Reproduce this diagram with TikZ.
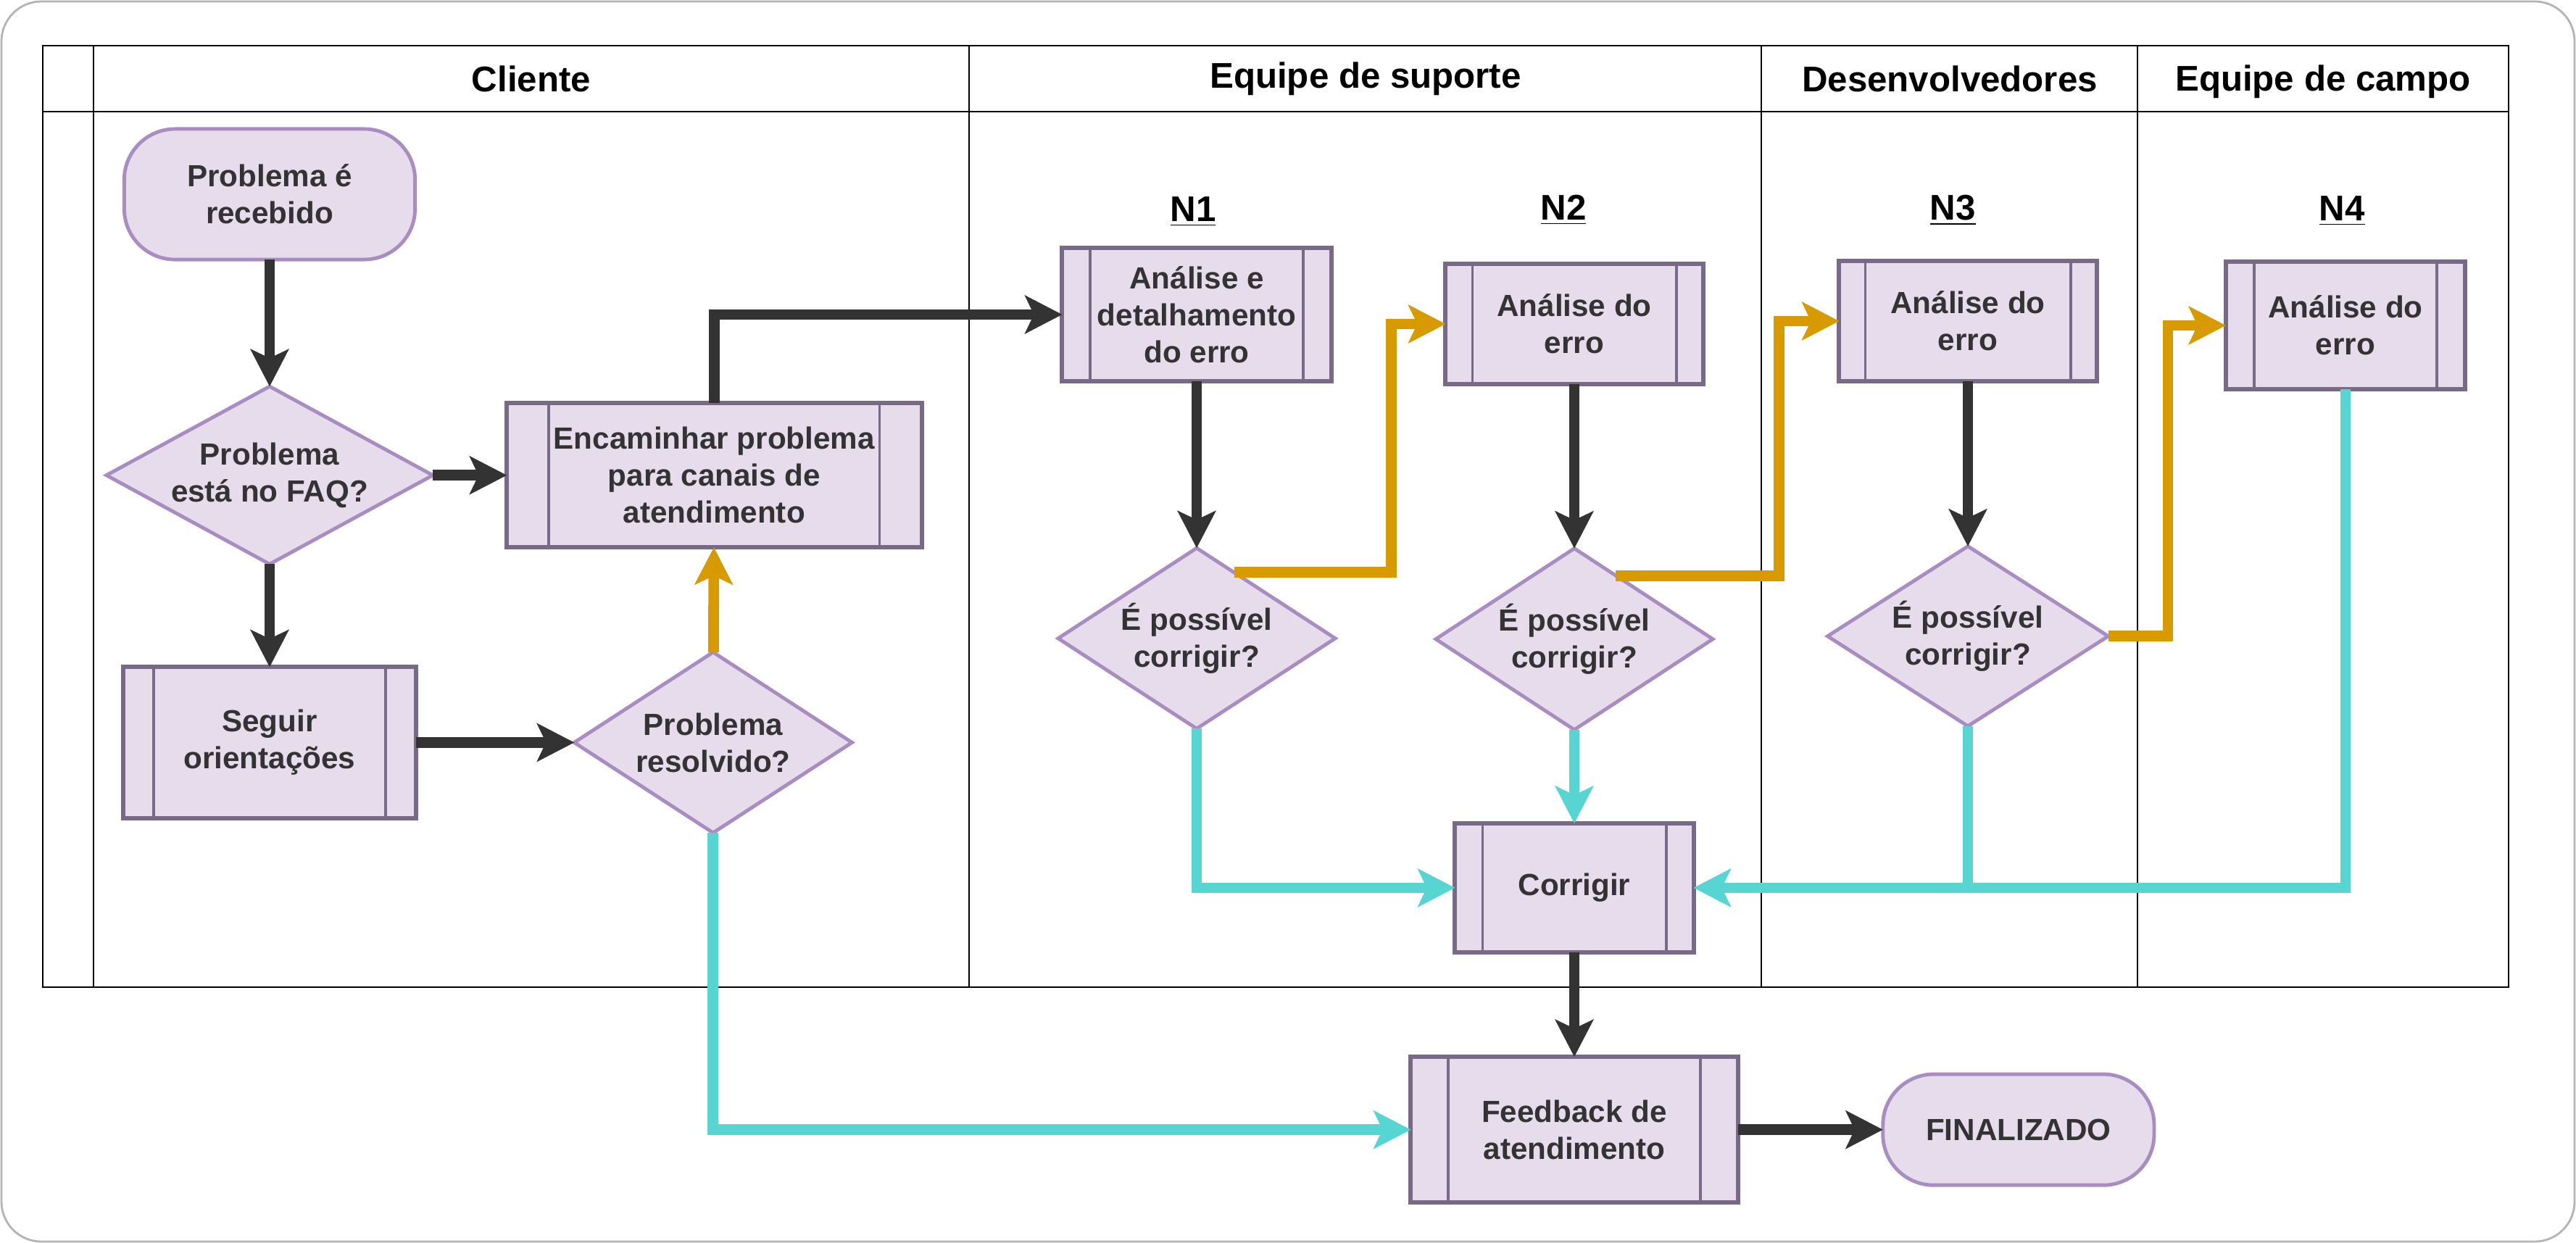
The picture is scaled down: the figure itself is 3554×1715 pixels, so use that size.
\documentclass[tikz,border=0pt]{standalone}
\usepackage{fontspec}
\setmainfont{Liberation Sans}
\usetikzlibrary{arrows.meta,positioning,shapes.geometric,calc}
\definecolor{boxfill}{HTML}{E7DCEC}
\definecolor{termline}{HTML}{A98DC0}
\definecolor{procline}{HTML}{786A86}
\definecolor{txtgray}{HTML}{333333}
\definecolor{darkline}{HTML}{333333}
\definecolor{orangeline}{HTML}{D79B00}
\definecolor{cyanline}{HTML}{56D5D2}
\definecolor{framegray}{HTML}{B4B4B4}

\begin{document}
\begin{tikzpicture}[
   x=0.01cm, y=-0.01cm,
   txt/.style={font=\fontsize{12pt}{14.5pt}\selectfont\bfseries, text=txtgray, align=center, outer sep=0pt},
   term/.style={txt, draw=termline, fill=boxfill, line width=1.4pt, rounded corners=0.7cm, inner sep=0pt},
   dec/.style={txt, diamond, aspect=#1, draw=termline, fill=boxfill, line width=1.4pt, inner sep=0pt},
   dec/.default=1.53,
   proc/.style={txt, draw=procline, fill=boxfill, line width=1.7pt, inner sep=0pt,
      path picture={\draw[procline, line width=1.1pt]
         ([xshift=#1]path picture bounding box.north west) -- ([xshift=#1]path picture bounding box.south west)
         ([xshift=-#1]path picture bounding box.north east) -- ([xshift=-#1]path picture bounding box.south east);}},
   proc/.default=0.38cm,
   lane/.style={font=\fontsize{14pt}{17pt}\selectfont\bfseries},
   lvl/.style={lane},
   ar/.style={-{Stealth[length=5.2mm, width=5.4mm, inset=1.3mm, line width=0pt]}, line width=4.2pt},
   blk/.style={ar, draw=darkline},
   org/.style={ar, draw=orangeline},
   cyn/.style={ar, draw=cyanline}
]
\useasboundingbox (0,0) rectangle (3554,1715);
\draw[framegray, line width=0.8pt, rounded corners=0.55cm] (2,2) rectangle (3552,1713);

% lanes
\draw[line width=0.6pt] (59,63) rectangle (3461,1362);
\draw[line width=0.6pt] (59,154) -- (3461,154);
\foreach \x in {129,1337,2430,2949} \draw[line width=0.6pt] (\x,63) -- (\x,1362);
\node[lane] (hcli) at (733,109) {Cliente};
\node[lane] (hsup) at (1884,109) {Equipe de suporte};
\node[lane] (hdev) at (2690,109) {Desenvolvedores};
\node[lane] (hcam) at (3205,113) {Equipe de campo};

% cliente
\node[term, minimum width=4.01cm, minimum height=1.8cm] (start) at (372,268) {Problema é\\recebido};
\node[dec=1.84, minimum width=4.5cm, minimum height=2.45cm, below=1.75cm of start] (faq) {Problema\\está no FAQ?};
\node[proc=0.58cm, minimum width=5.72cm, minimum height=1.99cm, right=1.02cm of faq] (enc) {Encaminhar problema\\para canais de\\atendimento};
\node[proc=0.42cm, minimum width=4.04cm, minimum height=2.08cm, below=1.42cm of faq] (seg) {Seguir\\orientações};
\node[dec=1.54, minimum width=3.83cm, minimum height=2.49cm, right=2.18cm of seg] (res) {Problema\\resolvido?};

% niveis
\node[lvl] (n1) at (1646,292) {\underline{N1}};
\node[lvl] (n2) at (2157,290) {\underline{N2}};
\node[lvl] (n3) at (2694,290) {\underline{N3}};
\node[lvl] (n4) at (3231,291) {\underline{N4}};
\node[proc=0.39cm, minimum width=3.71cm, minimum height=1.84cm] (an1) at (1651,434) {Análise e\\detalhamento\\do erro};
\node[dec, minimum width=3.82cm, minimum height=2.49cm, below=2.3cm of an1] (dc1) {É possível\\corrigir?};
\node[proc=0.37cm, minimum width=3.55cm, minimum height=1.65cm] (an2) at (2172,447) {Análise do\\erro};
\node[dec, minimum width=3.82cm, minimum height=2.5cm, below=2.27cm of an2] (dc2) {É possível\\corrigir?};
\node[proc=0.36cm, minimum width=3.55cm, minimum height=1.65cm] (an3) at (2715,443) {Análise do\\erro};
\node[dec=1.56, minimum width=3.87cm, minimum height=2.48cm, below=2.28cm of an3] (dc3) {É possível\\corrigir?};
\node[proc=0.39cm, minimum width=3.3cm, minimum height=1.76cm] (an4) at (3236,449) {Análise do\\erro};
\node[proc, minimum width=3.29cm, minimum height=1.78cm, below=1.29cm of dc2] (cor) {Corrigir};
\node[proc=0.52cm, minimum width=4.51cm, minimum height=2.01cm, below=1.44cm of cor] (fb) {Feedback de\\atendimento};
\node[term, minimum width=3.74cm, minimum height=1.53cm, right=2cm of fb] (fin) {FINALIZADO};

\draw[blk] (start) -- (faq);
\draw[blk] (faq) -- (enc);
\draw[blk] (faq) -- (seg);
\draw[blk] (seg) -- (res);
\draw[org] (res) -- (enc);
\draw[blk] (enc.north) |- (an1.west);
\draw[blk] (an1) -- (dc1);
\draw[blk] (an2) -- (dc2);
\draw[blk] (an3) -- (dc3);
\draw[org] ($(dc1.north)!0.27!(dc1.east)$) -| ([xshift=-0.75cm]an2.west) -- (an2.west);
\draw[org] ($(dc2.north)!0.3!(dc2.east)$) -| ([xshift=-0.83cm]an3.west) -- (an3.west);
\draw[org] (dc3.east) -| ([xshift=-0.8cm]an4.west) -- (an4.west);
\draw[cyn] (res.south) |- (fb.west);
\draw[cyn] (dc1.south) |- (cor.west);
\draw[cyn] (dc2) -- (cor);
\draw[cyn, -] (dc3.south) -- (dc3.south |- cor.east);
\draw[cyn] (an4.south) |- (cor.east);
\draw[blk] (cor) -- (fb);
\draw[blk] (fb) -- (fin);
\end{tikzpicture}
\end{document}
